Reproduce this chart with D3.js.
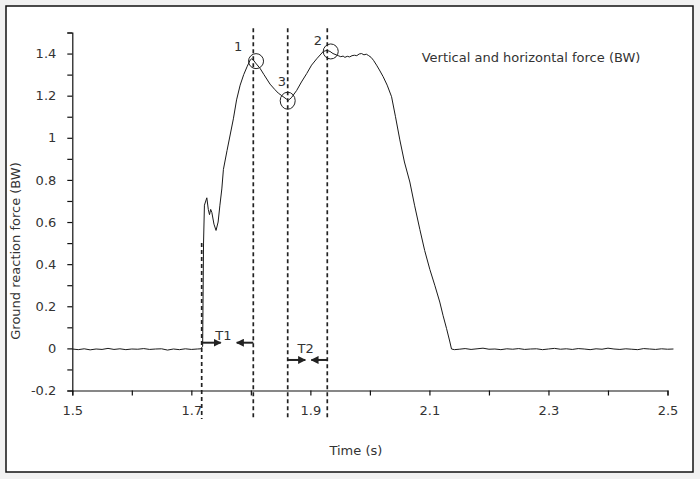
<!DOCTYPE html>
<html>
<head>
<meta charset="utf-8">
<script src="https://cdn.jsdelivr.net/npm/d3@7"></script>
<style>
  html, body { margin: 0; padding: 0; background: #f1f1f1; }
  svg { display: block; }
  text { font-family: "DejaVu Sans", sans-serif; fill: #333; }
</style>
</head>
<body>
<svg id="chart" width="700" height="479"></svg>
<script>
// ---------- data ----------
const time = [
  1.50,1.51,1.52,1.53,1.54,1.55,1.56,1.57,1.58,1.59,1.60,1.61,1.62,1.63,1.64,1.65,1.66,1.67,1.68,1.69,1.70,1.71,
  1.716,1.719,1.7205,1.722,1.726,1.7285,1.7305,1.7325,1.7345,1.738,1.7415,1.745,1.748,1.7512,1.7539,1.760,1.7706,
  1.776,1.782,1.788,1.794,1.799,1.8015,1.804,1.808,1.8154,1.822,1.8322,1.840,1.8461,1.852,1.8602,1.8629,1.868,
  1.877,1.885,1.8938,1.902,1.9106,1.9217,1.9279,1.933,1.938,1.9468,1.951,1.955,1.958,1.962,1.966,1.970,1.974,
  1.978,1.982,1.986,1.990,1.994,1.998,2.002,2.006,2.0112,2.016,2.0223,2.029,2.0364,2.043,2.0503,2.058,2.0671,
  2.075,2.0839,2.092,2.1007,2.109,2.1174,2.123,2.1287,2.134,2.1371,2.142,
  2.15,2.16,2.17,2.18,2.19,2.20,2.21,2.22,2.23,2.24,2.25,2.26,2.27,2.28,2.29,2.30,2.31,2.32,2.33,2.34,2.35,
  2.36,2.37,2.38,2.39,2.40,2.41,2.42,2.43,2.44,2.45,2.46,2.47,2.48,2.49,2.50,2.51
];
const force = [
  -0.003,-0.006,-0.002,-0.007,-0.003,-0.005,0.000,-0.005,-0.002,-0.006,-0.003,-0.004,-0.001,-0.005,-0.003,-0.002,-0.008,-0.003,-0.006,-0.002,-0.005,-0.003,
  -0.002,0.010,0.50,0.68,0.715,0.66,0.635,0.66,0.645,0.59,0.56,0.60,0.68,0.757,0.85,0.94,1.09,
  1.18,1.25,1.30,1.34,1.37,1.375,1.37,1.355,1.33,1.30,1.255,1.23,1.212,1.20,1.183,1.178,1.19,
  1.225,1.265,1.305,1.345,1.375,1.41,1.415,1.41,1.40,1.39,1.385,1.388,1.382,1.387,1.384,1.39,1.392,
  1.39,1.398,1.40,1.394,1.397,1.39,1.382,1.368,1.345,1.322,1.29,1.25,1.195,1.10,0.99,0.885,0.79,
  0.68,0.565,0.465,0.375,0.30,0.22,0.155,0.095,0.035,-0.003,-0.006,
  -0.004,-0.001,-0.005,-0.002,0.001,-0.004,-0.003,-0.006,-0.002,-0.004,-0.001,-0.005,-0.003,-0.002,-0.006,-0.003,0.000,-0.004,-0.002,-0.005,-0.001,
  -0.003,-0.006,-0.002,-0.004,0.001,-0.003,-0.005,-0.002,-0.004,-0.006,-0.001,-0.003,-0.005,-0.002,-0.004,-0.003
];

const xTicks = [1.5,1.6,1.7,1.8,1.9,2.0,2.1,2.2,2.3,2.4,2.5];
const xTickLabels = ["1.5","","1.7","","1.9","","2.1","","2.3","","2.5"];
const yTicks = [-0.2,-0.1,0,0.1,0.2,0.3,0.4,0.5,0.6,0.7,0.8,0.9,1.0,1.1,1.2,1.3,1.4,1.5];
const yTickLabels = ["-0.2","","0","","0.2","","0.4","","0.6","","0.8","","1","","1.2","","1.4",""];

// event markers (dashed verticals): time, top value
const eventTimes = [1.7174, 1.8041, 1.8619, 1.9284];
const eventTops  = [0.50, 1.52, 1.52, 1.52];

// circled points
const circleTimes  = [1.8087, 1.8619, 1.9342];
const circleValues = [1.364, 1.176, 1.410];
const circleLabels = ["1", "3", "2"];
const labelTimes   = [1.7785, 1.8523, 1.9128];
const labelValues  = [1.412, 1.247, 1.44];

// T1 / T2 arrows
const arrowFrom  = [1.7174, 1.8041, 1.8619, 1.9284];
const arrowTo    = [1.7494, 1.7762, 1.8915, 1.9016];
const arrowLevel = [0.027, 0.027, -0.055, -0.055];
const intervalNames  = ["T1", "T2"];
const intervalTimes  = [1.7540, 1.8920];
const intervalValues = [0.04, -0.02];

const title = "Vertical and horizontal force (BW)";
const xTitle = "Time (s)";
const yTitle = "Ground reaction force (BW)";

// ---------- drawing ----------
const svg = d3.select("#chart");
const FS = 13;

svg.append("rect")
  .attr("x", 6).attr("y", 6).attr("width", 687).attr("height", 466)
  .attr("fill", "#fff").attr("stroke", "#111").attr("stroke-width", 1.5);

const x = d3.scaleLinear().domain([1.5, 2.5]).range([72.3, 667.5]);
const y = d3.scaleLinear().domain([-0.2, 1.5]).range([390.5, 32.5]);

const defs = svg.append("defs");
defs.append("marker")
  .attr("id", "arrowhead")
  .attr("viewBox", "0 0 10 10")
  .attr("refX", 9).attr("refY", 5)
  .attr("markerWidth", 8).attr("markerHeight", 8)
  .attr("markerUnits", "userSpaceOnUse")
  .attr("orient", "auto")
  .append("path").attr("d", "M0,0 L10,5 L0,10 Z").attr("fill", "#222");

// axes
const xAxis = d3.axisBottom(x)
  .tickValues(xTicks)
  .tickSize(5)
  .tickPadding(10)
  .tickFormat((d, i) => xTickLabels[i]);
const gx = svg.append("g").attr("transform", `translate(0,${y(-0.2)})`).call(xAxis);

const yAxis = d3.axisLeft(y)
  .tickValues(yTicks)
  .tickSize(5)
  .tickPadding(11)
  .tickFormat((d, i) => yTickLabels[i]);
const gy = svg.append("g").attr("transform", `translate(${x(1.5)},0)`).call(yAxis);

[gx, gy].forEach(g => {
  g.select(".domain").attr("stroke", "#111").attr("stroke-width", 1.2);
  g.selectAll(".tick line").attr("stroke", "#111").attr("stroke-width", 1.2);
  g.selectAll(".tick text").attr("font-size", FS).attr("fill", "#333")
    .style("font-family", '"DejaVu Sans", sans-serif');
});

// dashed event lines
svg.append("g").selectAll("line")
  .data(eventTimes)
  .join("line")
  .attr("x1", d => x(d)).attr("x2", d => x(d))
  .attr("y1", (d, i) => y(eventTops[i]))
  .attr("y2", y(-0.335))
  .attr("stroke", "#222")
  .attr("stroke-width", 1.7)
  .attr("stroke-dasharray", "4,3");

// force curve
const pts = time.map((t, i) => [t, force[i]]);
svg.append("path")
  .datum(pts)
  .attr("d", d3.line().x(d => x(d[0])).y(d => y(d[1])))
  .attr("fill", "none")
  .attr("stroke", "#1a1a1a")
  .attr("stroke-width", 1);

// circles
svg.append("g").selectAll("ellipse")
  .data(circleTimes)
  .join("ellipse")
  .attr("cx", d => x(d))
  .attr("cy", (d, i) => y(circleValues[i]))
  .attr("rx", 7.5)
  .attr("ry", (d, i) => i === 1 ? 8.5 : 7.5)
  .attr("fill", "none")
  .attr("stroke", "#222")
  .attr("stroke-width", 1);

svg.append("g").selectAll("text")
  .data(circleLabels)
  .join("text")
  .attr("x", (d, i) => x(labelTimes[i]))
  .attr("y", (d, i) => y(labelValues[i]))
  .attr("text-anchor", "middle")
  .attr("font-size", FS)
  .attr("fill", (d, i) => i === 1 ? "#5a3a2a" : "#333")
  .text(d => d);

// arrows
svg.append("g").selectAll("line")
  .data(arrowFrom)
  .join("line")
  .attr("x1", d => x(d))
  .attr("x2", (d, i) => x(arrowTo[i]))
  .attr("y1", (d, i) => y(arrowLevel[i]))
  .attr("y2", (d, i) => y(arrowLevel[i]))
  .attr("stroke", "#222")
  .attr("stroke-width", 2)
  .attr("marker-end", "url(#arrowhead)");

svg.append("g").selectAll("text")
  .data(intervalNames)
  .join("text")
  .attr("x", (d, i) => x(intervalTimes[i]))
  .attr("y", (d, i) => y(intervalValues[i]))
  .attr("text-anchor", "middle")
  .attr("font-size", FS)
  .text(d => d);

// titles
svg.append("text")
  .attr("x", 531).attr("y", 62)
  .attr("text-anchor", "middle")
  .attr("font-size", FS)
  .text(title);

svg.append("text")
  .attr("x", (x(1.5) + x(2.5)) / 2 - 14).attr("y", 455)
  .attr("text-anchor", "middle")
  .attr("font-size", FS)
  .text(xTitle);

svg.append("text")
  .attr("transform", "translate(20,251) rotate(-90)")
  .attr("text-anchor", "middle")
  .attr("font-size", FS)
  .text(yTitle);
</script>
</body>
</html>
